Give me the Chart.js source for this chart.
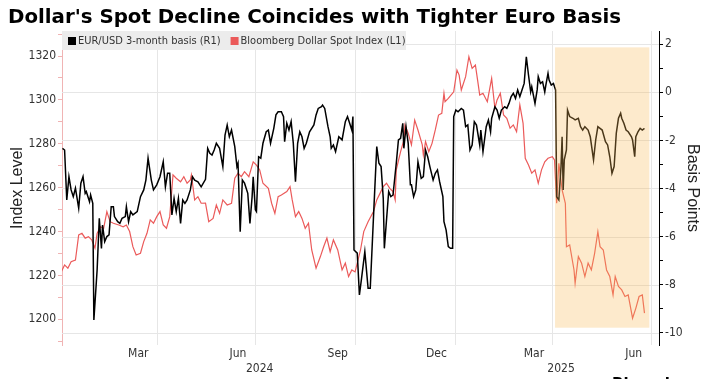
<!DOCTYPE html>
<html><head><meta charset="utf-8">
<script src="https://cdn.jsdelivr.net/npm/chart.js@4.4.1/dist/chart.umd.min.js"></script>
<style>html,body{margin:0;padding:0;background:#fff;overflow:hidden}</style>
</head><body>
<canvas id="c" width="708" height="379"></canvas>
<script>
const titleText = "Dollar's Spot Decline Coincides with Tighter Euro Basis";
const seriesNames = ["EUR/USD 3-month basis (R1)", "Bloomberg Dollar Spot Index (L1)"];

// x values: days since 2024-01-01
const basisDays = [4,6,8,10,12,14,16,19,21,23,25,26,29,30,32,33,36,38,40,41,43,45,47,49,51,52,55,57,59,62,63,65,67,69,73,76,79,81,83,86,88,91,94,97,99,101,103,105,107,109,111,113,115,117,119,122,124,126,129,132,136,138,140,142,144,146,149,152,154,156,158,160,163,165,166,168,170,172,175,177,179,180,182,183,185,187,189,192,194,196,199,201,203,206,208,209,211,213,215,217,219,221,223,225,227,229,232,236,238,240,243,244,246,249,251,252,254,256,259,262,265,267,269,271,272,273,276,278,280,283,286,288,291,294,296,298,300,301,303,305,307,309,312,314,316,318,319,321,323,325,326,328,330,332,335,337,339,341,343,346,348,350,352,355,356,358,360,362,364,365,367,369,372,374,376,378,380,382,384,386,389,390,392,395,397,399,400,403,405,407,409,412,414,416,418,420,422,424,426,428,430,432,434,436,437,440,442,443,445,447,449,450,452,453,455,457,458,459,460,462,464,465,466,467,469,470,472,475,477,480,482,484,486,489,491,494,496,498,500,502,505,507,509,511,513,515,517,519,520,522,524,526,529,530,532,533,535,537,539,541];
const basisValues = [-2.33,-2.40,-4.48,-3.51,-4.06,-4.34,-3.99,-4.82,-3.78,-3.51,-4.20,-4.13,-4.55,-4.27,-4.62,-9.47,-7.39,-5.24,-6.49,-5.52,-6.21,-6.00,-5.93,-4.76,-4.76,-5.17,-5.38,-5.45,-5.24,-5.17,-4.76,-5.38,-4.96,-5.10,-4.96,-4.34,-4.06,-3.65,-2.74,-3.65,-4.06,-3.85,-3.51,-2.89,-3.93,-3.37,-3.37,-5.10,-4.41,-4.96,-4.41,-5.45,-4.48,-4.62,-4.48,-4.06,-3.51,-3.65,-3.72,-3.93,-3.62,-2.33,-2.54,-2.61,-2.40,-2.12,-2.33,-3.09,-1.78,-1.36,-1.85,-1.57,-2.26,-3.09,-2.95,-5.80,-3.65,-3.78,-4.20,-5.45,-4.34,-3.51,-4.89,-4.96,-2.68,-2.74,-2.12,-1.64,-1.57,-2.12,-1.50,-0.94,-0.81,-0.81,-1.01,-2.05,-1.29,-1.57,-1.22,-2.12,-3.72,-2.12,-1.64,-1.85,-2.33,-2.12,-1.64,-1.36,-0.94,-0.67,-0.60,-0.53,-0.67,-1.43,-1.85,-2.33,-2.19,-2.47,-1.85,-1.98,-1.22,-1.01,-1.29,-1.57,-1.01,-6.56,-6.69,-8.43,-7.73,-6.63,-8.15,-8.15,-5.17,-2.26,-2.95,-3.09,-4.41,-6.49,-5.31,-4.13,-4.34,-4.27,-2.95,-1.98,-1.91,-1.29,-2.33,-1.43,-2.12,-3.85,-3.85,-4.34,-4.06,-2.89,-3.58,-3.51,-2.40,-2.68,-3.09,-3.65,-3.37,-3.23,-3.72,-4.34,-5.38,-5.73,-6.42,-6.49,-6.49,-1.01,-0.74,-0.81,-0.67,-0.74,-1.43,-1.36,-2.40,-2.19,-1.22,-1.36,-2.19,-1.57,-2.47,-1.43,-1.15,-1.64,-1.08,-0.60,-0.74,-1.08,-0.74,-0.60,-0.67,-0.46,-0.18,-0.04,-0.25,0.10,-0.18,0.10,0.37,1.48,0.72,0.02,0.23,-0.46,0.10,0.65,0.37,0.44,0.02,0.30,0.79,0.51,0.30,0.37,0.23,0.10,-4.34,-4.48,-3.09,-1.85,-4.06,-2.81,-2.40,-0.74,-1.01,-1.08,-1.15,-1.08,-1.43,-1.57,-1.43,-1.57,-1.85,-2.81,-1.98,-1.43,-1.50,-1.57,-2.05,-2.19,-2.68,-3.37,-3.09,-1.70,-1.08,-0.87,-1.08,-1.29,-1.57,-1.64,-1.85,-1.98,-2.68,-1.85,-1.64,-1.50,-1.57,-1.50];

const dxyDays = [3,6,9,12,16,19,22,25,28,31,34,36,39,42,45,48,51,56,60,63,66,69,72,76,79,82,85,88,91,94,97,100,103,106,109,113,116,119,122,123,126,129,132,136,139,143,146,149,152,156,160,163,166,169,172,176,180,183,186,189,194,197,200,203,206,211,214,216,219,222,225,228,231,234,238,242,245,248,251,254,258,262,265,268,271,274,279,282,286,291,294,297,300,303,306,309,311,312,316,319,320,323,326,329,332,336,337,339,342,345,348,351,354,356,357,360,365,368,370,372,376,379,382,385,387,389,392,396,400,403,405,408,411,414,417,420,423,426,429,431,434,437,440,443,446,449,452,456,458,460,462,465,468,469,472,476,477,480,483,486,489,492,495,498,500,503,506,509,512,514,517,520,523,526,530,533,536,539,541];
const dxyValues = [1221.7,1224.8,1223.3,1226.3,1227,1238.5,1239.2,1237,1237.7,1236.2,1232.4,1239.2,1242.2,1241.5,1249.1,1244.5,1243.8,1243,1242.2,1243,1240,1233.1,1229.3,1230.1,1235.4,1239.2,1245.3,1243.8,1246.8,1249.1,1243,1241.5,1246.8,1265.8,1264.3,1262.7,1265,1262,1263.5,1265.8,1254.4,1255.9,1252.9,1253,1244.5,1246,1252.1,1248.3,1254.4,1252.1,1252.9,1264.3,1266.6,1265,1267.3,1265,1271.8,1270.3,1268.1,1262,1259.7,1252.9,1248.3,1255.9,1256.7,1258.2,1260.5,1254.4,1246.8,1249.1,1246,1241.5,1243.8,1231.6,1223.3,1228.6,1233.1,1237,1230.8,1236.2,1231.6,1222.5,1225.6,1219.5,1222.5,1221.6,1231.6,1240,1244.5,1249.1,1254.4,1257.4,1260.5,1262,1259.7,1258.2,1254.4,1268.1,1276.4,1281.7,1288.6,1284.8,1279.5,1290.8,1286.3,1279.5,1274.9,1281,1276.4,1280.2,1286.3,1293.1,1293.9,1303,1299.2,1300.7,1303.7,1313.6,1311.3,1304.5,1310.6,1319.7,1314.4,1315.9,1309.1,1302.2,1303,1299.2,1309.8,1296.2,1300,1303,1293.1,1291.6,1287.1,1288.6,1285.5,1297.7,1289.3,1273.4,1270.3,1266.6,1268.1,1262,1268.1,1271.8,1273.4,1274.1,1272.6,1252.9,1271.1,1259,1252.9,1233.1,1233.9,1222.5,1216.4,1228.6,1225.6,1219.5,1225.6,1222.5,1230.1,1240,1233.1,1231.6,1222.5,1219.5,1211.1,1219.5,1215,1213.4,1210.4,1211.1,1200.5,1205,1210.4,1211.1,1202.8];

const quarterStartDays = [91,182,274,366,456,547];
const monthTickDays = [74,166,258,349,439,531];
const monthTickLabels = ["Mar","Jun","Sep","Dec","Mar","Jun"];
const yearTickDays = [186,464];
const yearTickLabels = ["2024","2025"];
const leftTickValues = [1190,1200,1210,1220,1230,1240,1250,1260,1270,1280,1290,1300,1310,1320,1330];
const leftLabelValues = [1200,1220,1240,1260,1280,1300,1320];
const rightTickValues = [-10,-9,-8,-7,-6,-5,-4,-3,-2,-1,0,1,2];
const rightLabelValues = [-10,-8,-6,-4,-2,0,2];
const shadeDays = [458.5,545.5];
const shadeBasis = [1.87,-9.79];

const BLACK = '#000000', RED = '#eb5a5a';
const TICKFONT = {family: "'DejaVu Sans Condensed','DejaVu Sans',sans-serif", size: 12};

Chart.defaults.scale.grid.display = false;

const decor = {
  id: 'decor',
  beforeDatasetsDraw(chart) {
    const {ctx, chartArea, scales: {x, yR}} = chart;
    ctx.save();
    ctx.strokeStyle = '#e6e6e6';
    ctx.lineWidth = 1;
    quarterStartDays.forEach(d => {
      const px = Math.round(x.getPixelForValue(d)) + 0.5;
      ctx.beginPath();
      ctx.moveTo(px, chartArea.top);
      ctx.lineTo(px, chartArea.bottom);
      ctx.stroke();
    });
    rightLabelValues.forEach(v => {
      const py = Math.round(yR.getPixelForValue(v)) + 0.5;
      ctx.beginPath();
      ctx.moveTo(chartArea.left, py);
      ctx.lineTo(chartArea.right, py);
      ctx.stroke();
    });
    ctx.restore();
  },
  afterDatasetsDraw(chart) {
    const {ctx, scales: {x, yR}} = chart;
    const x0 = x.getPixelForValue(shadeDays[0]), x1 = x.getPixelForValue(shadeDays[1]);
    const y0 = yR.getPixelForValue(shadeBasis[0]), y1 = yR.getPixelForValue(shadeBasis[1]);
    ctx.save();
    ctx.fillStyle = 'rgba(248,185,85,0.3)';
    ctx.fillRect(x0, y0, x1 - x0, y1 - y0);
    ctx.restore();
  },
  afterDraw(chart) {
    const {ctx, chartArea} = chart;
    ctx.save();
    ctx.fillStyle = '#000';
    ctx.font = "bold 19.8px 'DejaVu Sans', sans-serif";
    ctx.textBaseline = 'alphabetic';
    ctx.textAlign = 'left';
    ctx.fillText(titleText, 8, 23);
    ctx.fillStyle = '#ececec';
    ctx.fillRect(chartArea.left, 31, 406 - chartArea.left, 19);
    ctx.font = "11px 'DejaVu Sans Condensed','DejaVu Sans',sans-serif";
    ctx.textBaseline = 'middle';
    let lx = 68;
    const colors = [BLACK, RED];
    seriesNames.forEach((n, i) => {
      ctx.fillStyle = colors[i];
      ctx.fillRect(lx, 37, 8, 8);
      ctx.fillStyle = '#333';
      ctx.fillText(n, lx + 10, 41);
      lx += 10 + ctx.measureText(n).width + 10;
    });
    ctx.fillStyle = '#000';
    ctx.font = "bold 15px 'DejaVu Sans', sans-serif";
    ctx.textBaseline = 'alphabetic';
    ctx.fillText('Bloomberg', 612, 389);
    ctx.restore();
  }
};

const xTickList = [
  ...monthTickDays.map((v, i) => ({value: v, label: monthTickLabels[i]})),
  ...yearTickDays.map((v, i) => ({value: v, label: ['', yearTickLabels[i]]}))
].sort((a, b) => a.value - b.value);

new Chart(document.getElementById('c'), {
  type: 'line',
  data: {
    datasets: [
      {label: seriesNames[0], data: basisDays.map((d, i) => ({x: d, y: basisValues[i]})), xAxisID: 'x', yAxisID: 'yR', borderColor: BLACK, borderWidth: 1.5},
      {label: seriesNames[1], data: dxyDays.map((d, i) => ({x: d, y: dxyValues[i]})), xAxisID: 'x', yAxisID: 'yL', borderColor: RED, borderWidth: 1.2}
    ]
  },
  options: {
    responsive: false,
    animation: false,
    events: [],
    layout: {padding: {top: 31, left: 0, right: 0, bottom: 0}},
    elements: {point: {radius: 0}, line: {tension: 0}},
    plugins: {legend: {display: false}, title: {display: false}, tooltip: {enabled: false}},
    scales: {
      x: {
        type: 'linear', min: 3.6, max: 554.4,
        afterBuildTicks: s => { s.ticks = xTickList.map(t => ({value: t.value})); },
        afterFit: s => { s.height = 34; },
        ticks: {
          autoSkip: false, maxRotation: 0, minRotation: 0, padding: 2, color: '#333', font: TICKFONT,
          callback: v => { const t = xTickList.find(k => k.value === v); return t ? t.label : ''; }
        },
        grid: {display: false, drawOnChartArea: false, drawTicks: false},
        border: {display: false}
      },
      yL: {
        type: 'linear', position: 'left', min: 1188.3, max: 1331.4,
        afterBuildTicks: s => { s.ticks = leftTickValues.map(v => ({value: v})); },
        afterFit: s => { s.width = 62; },
        ticks: {padding: 2, color: '#333', font: TICKFONT, callback: v => leftLabelValues.includes(v) ? String(v) : ''},
        grid: {display: true, drawOnChartArea: false, drawTicks: true, tickLength: 4, tickColor: '#f0b4b4'},
        border: {display: true, color: '#f0b4b4'},
        title: {display: true, text: 'Index Level', color: '#222', font: {family: "'Liberation Sans', Arial, sans-serif", size: 16}, padding: {top: 8, bottom: 0}}
      },
      yR: {
        type: 'linear', position: 'right', min: -10.51, max: 2.55,
        afterBuildTicks: s => { s.ticks = rightTickValues.map(v => ({value: v})); },
        afterFit: s => { s.width = 49; },
        ticks: {padding: 2, color: '#333', font: TICKFONT, callback: v => rightLabelValues.includes(v) ? String(v) : ''},
        grid: {display: true, drawOnChartArea: false, drawTicks: true, tickLength: 4, tickColor: '#000'},
        border: {display: true, color: '#000'},
        title: {display: true, text: 'Basis Points', color: '#222', font: {family: "'Liberation Sans', Arial, sans-serif", size: 16}, padding: {top: 6, bottom: 0}}
      }
    }
  },
  plugins: [decor]
});
</script>
</body></html>
